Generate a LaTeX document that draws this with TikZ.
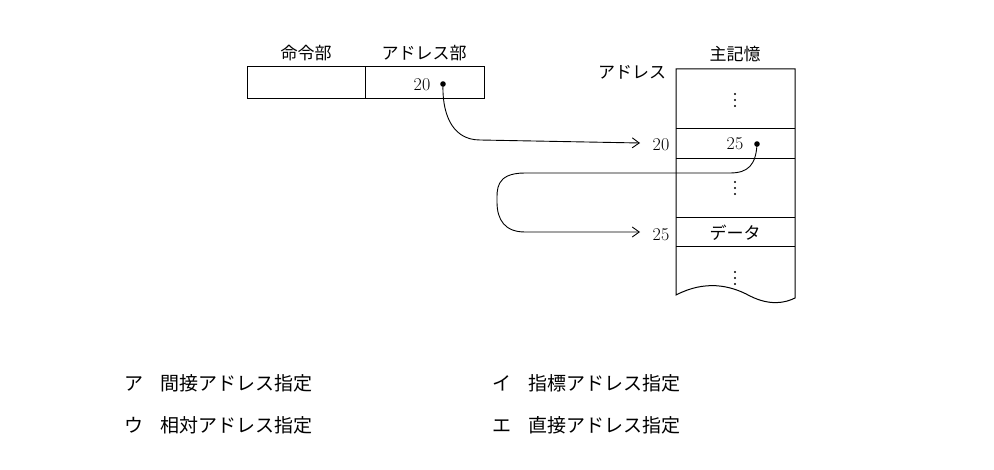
\documentclass[tikz,border=0pt]{standalone}
\usepackage{fontspec}
\newfontfamily\cjk{Noto Sans CJK JP}
\usetikzlibrary{arrows.meta}
\begin{document}
\begin{tikzpicture}[x=1pt,y=-1pt,
  lbl/.style={font=\cjk\fontsize{17}{17}\selectfont,inner sep=0},
  opt/.style={font=\cjk\fontsize{19}{19}\selectfont,inner sep=0,anchor=west},
  num/.style={font=\fontsize{18}{18}\selectfont,inner sep=0},
  box/.style={draw,line width=1pt},
  conn/.style={line width=0.9pt,-{Straight Barb[length=7pt,width=10pt]}},
  vdt/.style={insert path={(0,-6) circle (1.1) (0,0) circle (1.1) (0,6) circle (1.1)}}]
\useasboundingbox (0,0) rectangle (994,470);
% instruction
\draw[box] (247,67) rectangle (484,99);
\draw[box] (365,67) -- (365,99);
\node[lbl] (op) at (306,53) {命令部};
\node[lbl] (ad) at (424,53) {アドレス部};
\node[num] (v20) at (422,85) {20};
\fill (443,84) circle (2.8);
\coordinate (d1) at (443,84);
% memory
\draw[box] (676,69) -- (676,295) .. controls (705,280) and (730,285) .. (750,296) .. controls (770,306) and (785,303) .. (795,298) -- (795,69) -- cycle;
\foreach \yy in {129,159,218,247} \draw[box] (676,\yy) -- (795,\yy);
\node[lbl] (mm) at (735,54) {主記憶};
\node[lbl] (adr) at (632,72) {アドレス};
\node[num] (a20) at (661,145) {20};
\node[num] (a25) at (661,235) {25};
\node[num] (c25) at (735,144) {25};
\fill (757,144) circle (2.8);
\coordinate (d2) at (757,144);
\node[lbl] (dat) at (735,233) {データ};
\foreach \yy in {100,188,278} \fill[shift={(735,\yy)}] [vdt];
\coordinate (t1) at (640,143);
\coordinate (t2) at (640,232);
\draw[conn] (d1) .. controls (442,110) and (450,140) .. (480,140) -- (t1);
\draw[conn] (d2) .. controls (756,165) and (748,173) .. (730,173) -- (525,173)
  .. controls (495,173) and (497,190) .. (497,202) .. controls (497,220) and (505,232) .. (525,232) -- (t2);
% options
\node[opt] (oa) at (124,383) {ア\hspace{0.9em}間接アドレス指定};
\node[opt] (oi) at (492,383) {イ\hspace{0.9em}指標アドレス指定};
\node[opt] (ou) at (124,425) {ウ\hspace{0.9em}相対アドレス指定};
\node[opt] (oe) at (492,425) {エ\hspace{0.9em}直接アドレス指定};
\end{tikzpicture}
\end{document}
